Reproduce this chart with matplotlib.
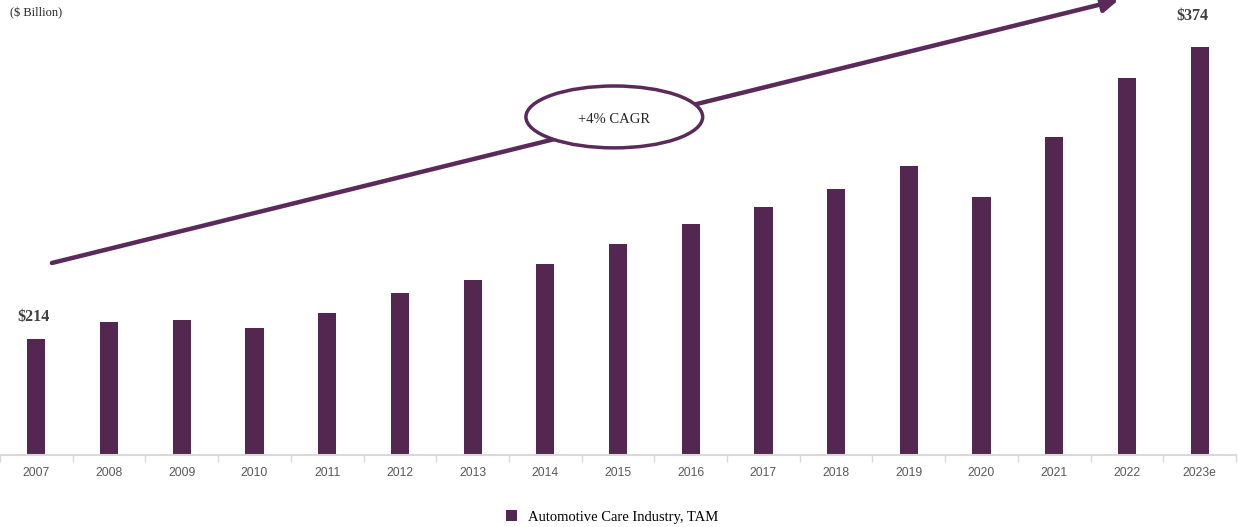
import matplotlib.pyplot as plt
from matplotlib.patches import Ellipse
import numpy as np

years = ["2007", "2008", "2009", "2010", "2011", "2012", "2013", "2014", "2015",
         "2016", "2017", "2018", "2019", "2020", "2021", "2022", "2023e"]
tam = [214, 223, 224, 220, 228, 239, 246, 255, 266,
       277, 286, 296, 309, 292, 325, 357, 374]

bar_color = "#532750"
line_color = "#5a2a5a"

fig = plt.figure(figsize=(12.38, 5.27), dpi=100)
ax = fig.add_axes([0, 72 / 527, 1236 / 1238, 455 / 527])

x = np.arange(len(years))
bars = ax.bar(x, tam, width=0.25, bottom=0, color=bar_color,
              label="Automotive Care Industry, TAM", zorder=2)

ax.set_xlim(-0.5, len(years) - 0.5)
ax.set_ylim(150, 400)

# axis styling: only a light baseline with small ticks between years
for side in ["top", "right", "left"]:
    ax.spines[side].set_visible(False)
ax.spines["bottom"].set_color("#d9d9d9")
ax.spines["bottom"].set_linewidth(1.5)
ax.set_yticks([])
ax.set_xticks(x)
ax.set_xticklabels(years, fontfamily="Liberation Sans", fontsize=8.7, color="#595959")
ax.tick_params(axis="x", which="major", length=0, pad=9)
ax.set_xticks(np.arange(len(years) + 1) - 0.5, minor=True)
ax.tick_params(axis="x", which="minor", length=5, color="#d9d9d9", width=1)

# first and last values
for i, dx, dy in [(0, -2, 10), (len(years) - 1, -5, 17)]:
    ax.annotate(f"${tam[i]}", (x[i], tam[i]), xytext=(dx, dy), textcoords="offset points",
                ha="center", va="bottom", fontfamily="Liberation Serif",
                fontweight="bold", fontsize=11.5, color="#404040")

# growth arrow with CAGR bubble
ax.annotate("", xy=(0.905, 1.0), xytext=(0.042, 0.422),
            xycoords="axes fraction", textcoords="axes fraction",
            arrowprops=dict(arrowstyle="-|>", color=line_color, lw=3.2,
                            mutation_scale=24, shrinkA=0, shrinkB=0),
            annotation_clip=False, zorder=3)
ell = Ellipse((0.497, 0.743), 0.143, 0.136, transform=ax.transAxes,
              facecolor="white", edgecolor=line_color, lw=2.5, zorder=4, clip_on=False)
ax.add_patch(ell)
ax.text(0.497, 0.738, "+4% CAGR", transform=ax.transAxes, ha="center", va="center",
        fontfamily="Liberation Serif", fontsize=10.5, color="#262626", zorder=5)

fig.text(10 / 1238, 1 - 13 / 527, "($ Billion)", ha="left", va="center",
         fontfamily="Liberation Serif", fontsize=9, color="#262626")

fig.legend(handles=[bars], loc="center", bbox_to_anchor=(612 / 1238, 1 - 517 / 527),
           frameon=False, handlelength=0.75, handleheight=0.75, handletextpad=0.8,
           prop={"family": "Liberation Serif", "size": 10.5})

fig.savefig("out.png", dpi=100)
